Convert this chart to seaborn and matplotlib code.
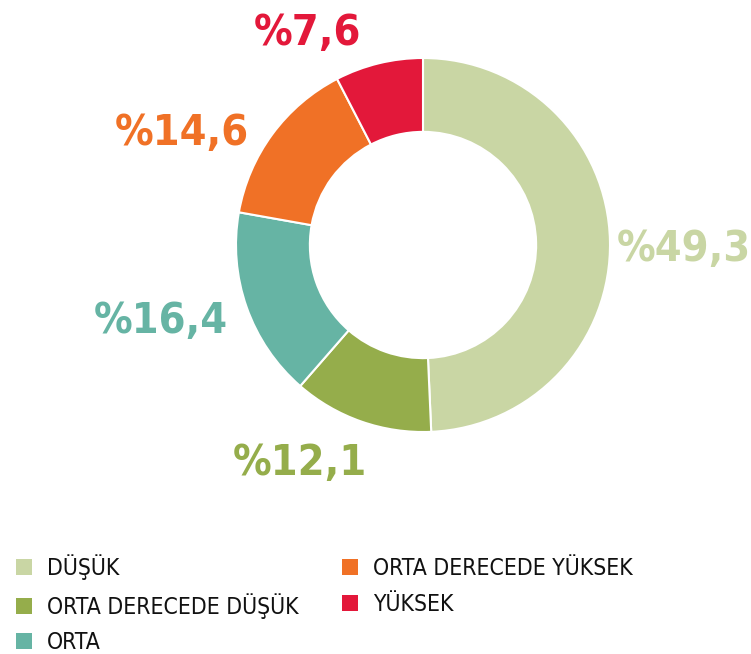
import matplotlib
matplotlib.use("Agg")
import matplotlib.pyplot as plt
from matplotlib.patches import Patch
import seaborn as sns

# data
categories = ["DÜŞÜK", "ORTA DERECEDE DÜŞÜK", "ORTA", "ORTA DERECEDE YÜKSEK", "YÜKSEK"]
values = [49.3, 12.1, 16.4, 14.6, 7.6]
labels = ["%49,3", "%12,1", "%16,4", "%14,6", "%7,6"]
colors = ["#C9D6A4", "#95AD4B", "#66B4A4", "#F07126", "#E3183A"]

sns.set_style("white")
plt.rcParams['font.family'] = ['DejaVu Sans']
plt.rcParams['font.stretch'] = 'condensed'

fig = plt.figure(figsize=(7.51, 6.54), dpi=100)
# donut centre ~ (423, 245) px, outer radius ~187 px
ax = fig.add_axes([(423 - 187) / 751, (654 - 245 - 187) / 654, 374 / 751, 374 / 654])

wedges, _ = ax.pie(values, colors=colors, startangle=90, counterclock=False,
                   radius=1, wedgeprops=dict(width=0.395, edgecolor="white", linewidth=1.5))
ax.set_xlim(-1, 1)
ax.set_ylim(-1, 1)
ax.set_aspect("equal")
ax.axis("off")

# value labels: centre x / baseline y, in donut radius units
label_pos = [(1.396, -0.086), (-0.658, -1.230), (-1.401, -0.471), (-1.289, 0.535), (-0.620, 1.070)]
for (x, y), txt, c in zip(label_pos, labels, colors):
    ax.text(x, y, txt, color=c, fontsize=31, fontweight="bold",
            ha="center", va="baseline", clip_on=False)

handles = [Patch(facecolor=c, edgecolor="none") for c in colors]
fig.legend(handles, categories, loc="upper left", bbox_to_anchor=(0.0213, 0.152),
           ncol=2, frameon=False, fontsize=16.5, handlelength=0.7, handleheight=0.7,
           handletextpad=0.65, columnspacing=1.9, labelspacing=0.55,
           borderpad=0, borderaxespad=0, labelcolor="#111111")

fig.savefig("out.png", dpi=100)
